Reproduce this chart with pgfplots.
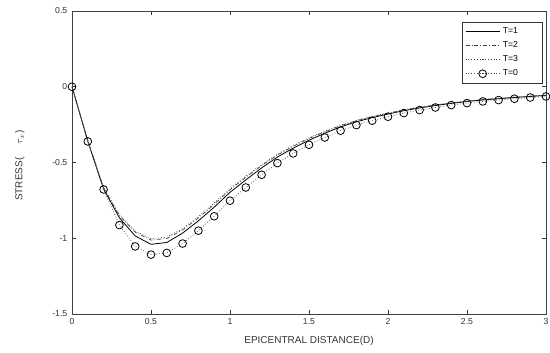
\documentclass[border=0pt]{standalone}
\usepackage{pgfplots}
\pgfplotsset{compat=1.18}
\usepackage{fontspec}
\setmainfont{Liberation Sans}
\begin{document}
\begin{tikzpicture}
\begin{axis}[
  scale only axis,
  width=355.5pt, height=227.25pt,
  xmin=0, xmax=3, ymin=-1.5, ymax=0.5,
  xtick={0,0.5,1,1.5,2,2.5,3},
  ytick={-1.5,-1,-0.5,0,0.5},
  xticklabels={0,0.5,1,1.5,2,2.5,3},
  yticklabels={-1.5,-1,-0.5,0,0.5},
  tick align=inside,
  major tick length=3pt,
  tick style={black!80, line width=0.5pt},
  axis line style={black!75, line width=0.6pt},
  ticklabel style={font=\fontsize{6.5}{7}\selectfont, text=black!80},
  xlabel={EPICENTRAL DISTANCE(D)},
  ylabel={STRESS(\hspace{1.3em}$\tau_x$)},
  label style={font=\fontsize{7.5}{8}\selectfont, text=black!80},
  x label style={at={(axis description cs:0.5,-0.09)}, anchor=center},
  y label style={at={(axis description cs:-0.11,0.49)}, anchor=center, rotate=0},
  legend style={at={(rel axis cs:0.994,0.965)}, anchor=north east,
    font=\fontsize{6.5}{10}\selectfont, draw=black!80, line width=0.5pt,
    row sep=0.6pt, inner sep=2pt, cells={anchor=west}},
  legend image code/.code={\draw[mark repeat=2,mark phase=2,#1] plot coordinates {(0cm,0cm)(0.45cm,0cm)(0.9cm,0cm)};},
]
\addplot[black, line width=0.6pt] coordinates {
(0,0)(0.1,-0.36)(0.2,-0.675)(0.3,-0.865)(0.4,-0.985)(0.5,-1.04)(0.6,-1.028)(0.7,-0.966)(0.8,-0.885)(0.9,-0.795)(1.0,-0.697)(1.1,-0.615)(1.2,-0.536)(1.3,-0.464)(1.4,-0.405)(1.5,-0.353)(1.6,-0.307)(1.7,-0.265)(1.8,-0.231)(1.9,-0.204)(2.0,-0.180)(2.1,-0.158)(2.2,-0.140)(2.3,-0.124)(2.4,-0.110)(2.5,-0.097)(2.6,-0.087)(2.7,-0.079)(2.8,-0.071)(2.9,-0.064)(3.0,-0.057)};
\addlegendentry{\makebox[26pt][l]{T=1}}
\addplot[black!75, line width=0.5pt, dash pattern=on 3pt off 1.5pt on 0.6pt off 1.5pt] coordinates {
(0,0)(0.1,-0.355)(0.2,-0.668)(0.3,-0.85)(0.4,-0.96)(0.5,-1.012)(0.6,-1.002)(0.7,-0.945)(0.8,-0.866)(0.9,-0.776)(1.0,-0.680)(1.1,-0.598)(1.2,-0.521)(1.3,-0.451)(1.4,-0.393)(1.5,-0.342)(1.6,-0.297)(1.7,-0.257)(1.8,-0.224)(1.9,-0.198)(2.0,-0.175)(2.1,-0.154)(2.2,-0.136)(2.3,-0.121)(2.4,-0.107)(2.5,-0.095)(2.6,-0.085)(2.7,-0.077)(2.8,-0.069)(2.9,-0.062)(3.0,-0.056)};
\addlegendentry{\makebox[26pt][l]{T=2}}
\addplot[black!75, line width=0.5pt, dash pattern=on 0.6pt off 1.5pt] coordinates {
(0,0)(0.1,-0.353)(0.2,-0.665)(0.3,-0.845)(0.4,-0.952)(0.5,-1.003)(0.6,-0.993)(0.7,-0.936)(0.8,-0.857)(0.9,-0.767)(1.0,-0.672)(1.1,-0.590)(1.2,-0.514)(1.3,-0.445)(1.4,-0.387)(1.5,-0.337)(1.6,-0.293)(1.7,-0.254)(1.8,-0.221)(1.9,-0.195)(2.0,-0.172)(2.1,-0.152)(2.2,-0.134)(2.3,-0.119)(2.4,-0.106)(2.5,-0.094)(2.6,-0.084)(2.7,-0.076)(2.8,-0.068)(2.9,-0.061)(3.0,-0.055)};
\addlegendentry{\makebox[26pt][l]{T=3}}
\addplot[black!70, line width=0.5pt, dash pattern=on 0.6pt off 1.5pt, mark=o, mark size=2.9pt, mark options={solid, black, line width=0.6pt}] coordinates {
(0,0)(0.1,-0.361)(0.2,-0.678)(0.3,-0.913)(0.4,-1.054)(0.5,-1.108)(0.6,-1.097)(0.7,-1.035)(0.8,-0.95)(0.9,-0.855)(1.0,-0.752)(1.1,-0.665)(1.2,-0.581)(1.3,-0.504)(1.4,-0.44)(1.5,-0.383)(1.6,-0.335)(1.7,-0.29)(1.8,-0.253)(1.9,-0.224)(2.0,-0.198)(2.1,-0.174)(2.2,-0.154)(2.3,-0.137)(2.4,-0.121)(2.5,-0.108)(2.6,-0.097)(2.7,-0.088)(2.8,-0.079)(2.9,-0.071)(3.0,-0.064)};
\addlegendentry{\makebox[26pt][l]{T=0}}
\end{axis}
\pgfresetboundingbox
\path (current axis.south west) ++(-54pt,-29.25pt) coordinate (bbA);
\path (current axis.north east) ++(3pt,8.25pt) coordinate (bbB);
\path[use as bounding box] (bbA) rectangle (bbB);
\end{tikzpicture}
\end{document}
